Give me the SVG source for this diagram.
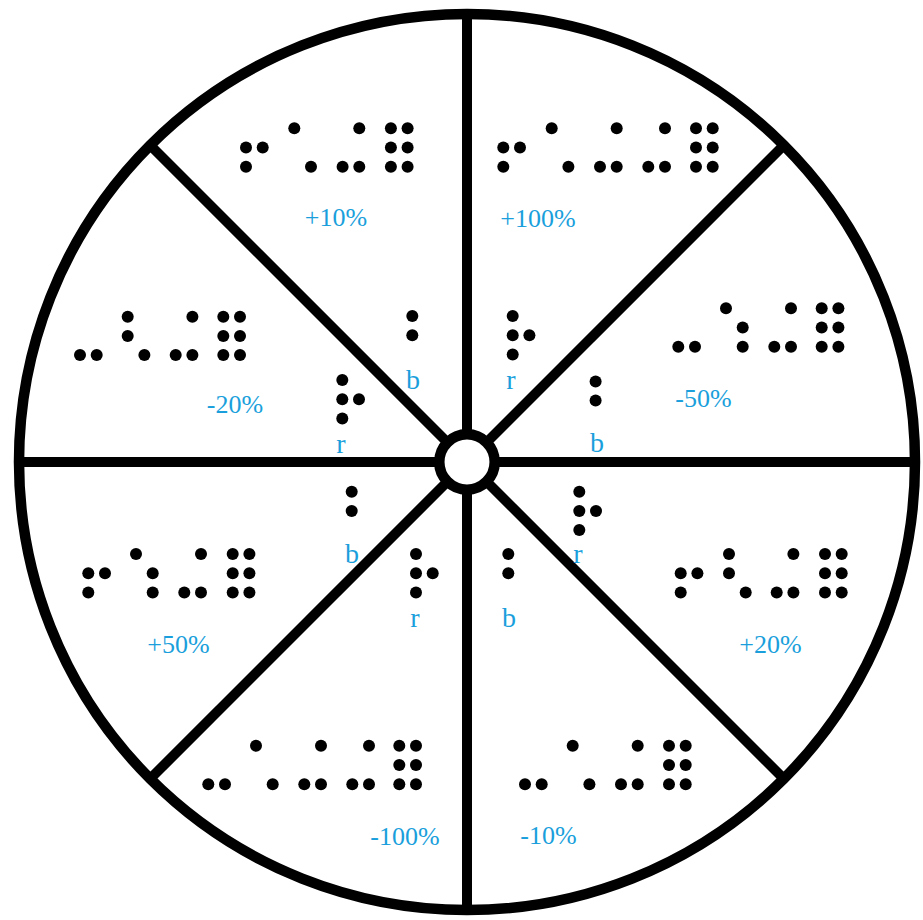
<svg xmlns="http://www.w3.org/2000/svg" width="923" height="920" viewBox="0 0 923 920">
<style>
.d{fill:#000}
.t{font-family:"Liberation Serif","DejaVu Serif",serif;font-size:26px;fill:#1a9fdc;text-anchor:middle}
.s{font-size:28px}
.l{stroke:#000;stroke-width:10;fill:none}
</style>
<rect width="923" height="920" fill="#fff"/>
<g id="wheel">
<circle cx="467" cy="462" r="448" fill="#fff" stroke="#000" stroke-width="10.5"/>
<line class="l" x1="467" y1="14" x2="467" y2="910"/>
<line class="l" x1="19" y1="462" x2="915" y2="462"/>
<line class="l" x1="150.2" y1="145.2" x2="783.8" y2="778.8"/>
<line class="l" x1="783.8" y1="145.2" x2="150.2" y2="778.8"/>
<circle cx="467" cy="462" r="27.7" fill="#fff" stroke="#000" stroke-width="10.5"/>
</g>
<g id="s-plus10" class="d">
<circle cx="246" cy="147.5" r="6"/><circle cx="262.7" cy="147.5" r="6"/><circle cx="246" cy="166.7" r="6"/>
<circle cx="294.3" cy="128.3" r="6"/><circle cx="311" cy="166.7" r="6"/>
<circle cx="359.3" cy="128.3" r="6"/><circle cx="342.6" cy="166.7" r="6"/><circle cx="359.3" cy="166.7" r="6"/>
<circle cx="390.9" cy="128.3" r="6"/><circle cx="407.6" cy="128.3" r="6"/><circle cx="390.9" cy="147.5" r="6"/><circle cx="407.6" cy="147.5" r="6"/><circle cx="390.9" cy="166.7" r="6"/><circle cx="407.6" cy="166.7" r="6"/>
<text class="t" x="336" y="226">+10%</text>
</g>
<g id="s-plus100" class="d">
<circle cx="503.3" cy="147.5" r="6"/><circle cx="520" cy="147.5" r="6"/><circle cx="503.3" cy="166.7" r="6"/>
<circle cx="551.7" cy="128.3" r="6"/><circle cx="568.4" cy="166.7" r="6"/>
<circle cx="616.7" cy="128.3" r="6"/><circle cx="600" cy="166.7" r="6"/><circle cx="616.7" cy="166.7" r="6"/>
<circle cx="665" cy="128.3" r="6"/><circle cx="648.3" cy="166.7" r="6"/><circle cx="665" cy="166.7" r="6"/>
<circle cx="696" cy="128.3" r="6"/><circle cx="712.7" cy="128.3" r="6"/><circle cx="696" cy="147.5" r="6"/><circle cx="712.7" cy="147.5" r="6"/><circle cx="696" cy="166.7" r="6"/><circle cx="712.7" cy="166.7" r="6"/>
<text class="t" x="538" y="226.5">+100%</text>
</g>
<g id="s-minus20" class="d">
<circle cx="80" cy="355" r="6"/><circle cx="96.7" cy="355" r="6"/>
<circle cx="127.7" cy="316.7" r="6"/><circle cx="127.7" cy="335.9" r="6"/><circle cx="144.4" cy="355" r="6"/>
<circle cx="192.4" cy="316.7" r="6"/><circle cx="175.7" cy="355" r="6"/><circle cx="192.4" cy="355" r="6"/>
<circle cx="223.3" cy="316.7" r="6"/><circle cx="240" cy="316.7" r="6"/><circle cx="223.3" cy="335.9" r="6"/><circle cx="240" cy="335.9" r="6"/><circle cx="223.3" cy="355" r="6"/><circle cx="240" cy="355" r="6"/>
<text class="t" x="235" y="413">-20%</text>
</g>
<g id="s-minus50" class="d">
<circle cx="678.3" cy="346.7" r="6"/><circle cx="695" cy="346.7" r="6"/>
<circle cx="726" cy="308.3" r="6"/><circle cx="742.7" cy="327.5" r="6"/><circle cx="742.7" cy="346.7" r="6"/>
<circle cx="791" cy="308.3" r="6"/><circle cx="774.3" cy="346.7" r="6"/><circle cx="791" cy="346.7" r="6"/>
<circle cx="821.7" cy="308.3" r="6"/><circle cx="838.4" cy="308.3" r="6"/><circle cx="821.7" cy="327.5" r="6"/><circle cx="838.4" cy="327.5" r="6"/><circle cx="821.7" cy="346.7" r="6"/><circle cx="838.4" cy="346.7" r="6"/>
<text class="t" x="703.5" y="406.5">-50%</text>
</g>
<g id="s-plus50" class="d">
<circle cx="88.3" cy="573.3" r="6"/><circle cx="105" cy="573.3" r="6"/><circle cx="88.3" cy="592.6" r="6"/>
<circle cx="136" cy="554" r="6"/><circle cx="152.7" cy="573.3" r="6"/><circle cx="152.7" cy="592.6" r="6"/>
<circle cx="201" cy="554" r="6"/><circle cx="184.3" cy="592.6" r="6"/><circle cx="201" cy="592.6" r="6"/>
<circle cx="232.7" cy="554" r="6"/><circle cx="249.4" cy="554" r="6"/><circle cx="232.7" cy="573.3" r="6"/><circle cx="249.4" cy="573.3" r="6"/><circle cx="232.7" cy="592.6" r="6"/><circle cx="249.4" cy="592.6" r="6"/>
<text class="t" x="178.5" y="652.5">+50%</text>
</g>
<g id="s-plus20" class="d">
<circle cx="680.7" cy="573.3" r="6"/><circle cx="697.4" cy="573.3" r="6"/><circle cx="680.7" cy="592.6" r="6"/>
<circle cx="729" cy="554" r="6"/><circle cx="729" cy="573.3" r="6"/><circle cx="745.7" cy="592.6" r="6"/>
<circle cx="793.4" cy="554" r="6"/><circle cx="776.7" cy="592.6" r="6"/><circle cx="793.4" cy="592.6" r="6"/>
<circle cx="825" cy="554" r="6"/><circle cx="841.7" cy="554" r="6"/><circle cx="825" cy="573.3" r="6"/><circle cx="841.7" cy="573.3" r="6"/><circle cx="825" cy="592.6" r="6"/><circle cx="841.7" cy="592.6" r="6"/>
<text class="t" x="770.5" y="652.5">+20%</text>
</g>
<g id="s-minus100" class="d">
<circle cx="208.3" cy="784.2" r="6"/><circle cx="225" cy="784.2" r="6"/>
<circle cx="256" cy="745.7" r="6"/><circle cx="272.7" cy="784.2" r="6"/>
<circle cx="321" cy="745.7" r="6"/><circle cx="304.3" cy="784.2" r="6"/><circle cx="321" cy="784.2" r="6"/>
<circle cx="369" cy="745.7" r="6"/><circle cx="352.3" cy="784.2" r="6"/><circle cx="369" cy="784.2" r="6"/>
<circle cx="399.3" cy="745.7" r="6"/><circle cx="416" cy="745.7" r="6"/><circle cx="399.3" cy="765" r="6"/><circle cx="416" cy="765" r="6"/><circle cx="399.3" cy="784.2" r="6"/><circle cx="416" cy="784.2" r="6"/>
<text class="t" x="405" y="845">-100%</text>
</g>
<g id="s-minus10" class="d">
<circle cx="525" cy="784.2" r="6"/><circle cx="541.7" cy="784.2" r="6"/>
<circle cx="572.7" cy="745.7" r="6"/><circle cx="589.4" cy="784.2" r="6"/>
<circle cx="637.7" cy="745.7" r="6"/><circle cx="621" cy="784.2" r="6"/><circle cx="637.7" cy="784.2" r="6"/>
<circle cx="669" cy="745.7" r="6"/><circle cx="685.7" cy="745.7" r="6"/><circle cx="669" cy="765" r="6"/><circle cx="685.7" cy="765" r="6"/><circle cx="669" cy="784.2" r="6"/><circle cx="685.7" cy="784.2" r="6"/>
<text class="t" x="548.5" y="844">-10%</text>
</g>
<g id="i-b-top" class="d">
<circle cx="412.3" cy="316" r="6"/><circle cx="412.3" cy="335.2" r="6"/>
<text class="t s" x="413" y="389">b</text>
</g>
<g id="i-r-top" class="d">
<circle cx="512.7" cy="316" r="6"/><circle cx="512.7" cy="335.2" r="6"/><circle cx="529.4" cy="335.2" r="6"/><circle cx="512.7" cy="354.4" r="6"/>
<text class="t s" x="511" y="389">r</text>
</g>
<g id="i-r-left" class="d">
<circle cx="342.3" cy="380" r="6"/><circle cx="342.3" cy="399.2" r="6"/><circle cx="359" cy="399.2" r="6"/><circle cx="342.3" cy="418.4" r="6"/>
<text class="t s" x="341" y="453">r</text>
</g>
<g id="i-b-right" class="d">
<circle cx="595.6" cy="381.4" r="6"/><circle cx="595.6" cy="400.6" r="6"/>
<text class="t s" x="597" y="452">b</text>
</g>
<g id="i-b-left" class="d">
<circle cx="351.7" cy="491.7" r="6"/><circle cx="351.7" cy="510.9" r="6"/>
<text class="t s" x="352" y="563">b</text>
</g>
<g id="i-r-right" class="d">
<circle cx="579.3" cy="491.7" r="6"/><circle cx="579.3" cy="510.9" r="6"/><circle cx="596" cy="510.9" r="6"/><circle cx="579.3" cy="530.1" r="6"/>
<text class="t s" x="578" y="563">r</text>
</g>
<g id="i-r-bottom" class="d">
<circle cx="416" cy="554" r="6"/><circle cx="416" cy="573.2" r="6"/><circle cx="432.7" cy="573.2" r="6"/><circle cx="416" cy="592.4" r="6"/>
<text class="t s" x="415" y="627">r</text>
</g>
<g id="i-b-bottom" class="d">
<circle cx="508.3" cy="554" r="6"/><circle cx="508.3" cy="573.2" r="6"/>
<text class="t s" x="509" y="627">b</text>
</g>
</svg>
